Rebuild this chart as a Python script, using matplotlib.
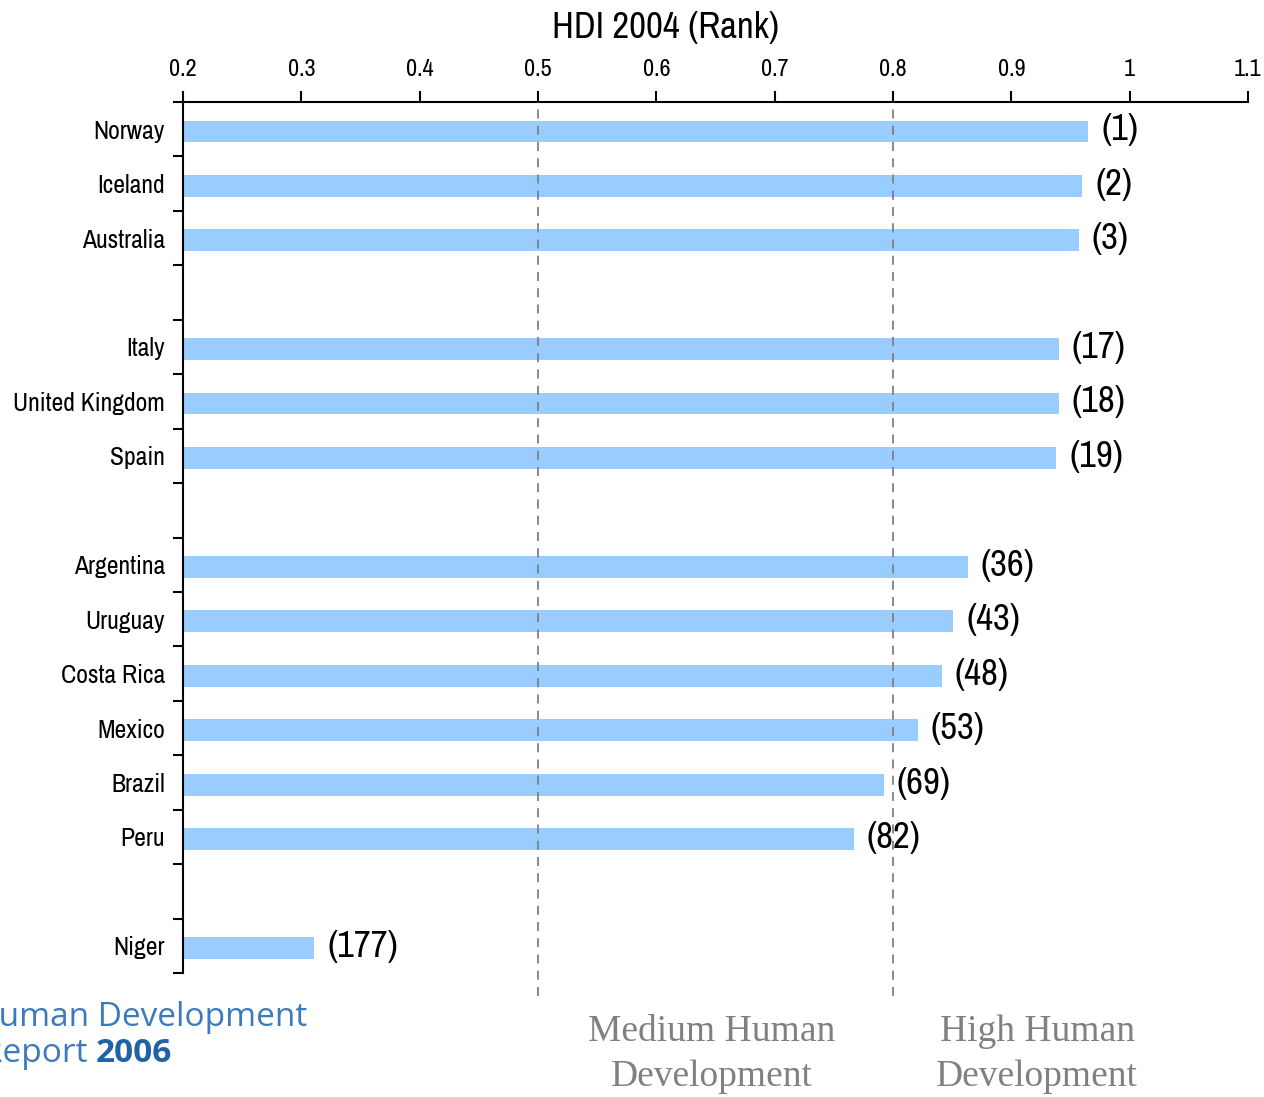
import matplotlib.pyplot as plt
from matplotlib.ticker import FixedLocator

# HDI 2004 values and ranks, grouped (a blank row between groups)
groups = [
    ["Norway", "Iceland", "Australia"],
    ["Italy", "United Kingdom", "Spain"],
    ["Argentina", "Uruguay", "Costa Rica", "Mexico", "Brazil", "Peru"],
    ["Niger"],
]
hdi = [0.965, 0.960, 0.957,
       0.940, 0.940, 0.938,
       0.863, 0.851, 0.841, 0.821, 0.792, 0.767,
       0.311]
ranks = [1, 2, 3, 17, 18, 19, 36, 43, 48, 53, 69, 82, 177]
x_ticks = [0.2, 0.3, 0.4, 0.5, 0.6, 0.7, 0.8, 0.9, 1.0, 1.1]
x_tick_labels = ["0.2", "0.3", "0.4", "0.5", "0.6", "0.7", "0.8", "0.9", "1", "1.1"]
thresholds = [0.5, 0.8]

narrow = ["Archivo Narrow", "Liberation Sans", "DejaVu Sans"]

countries = []
pos = []
p = 0
for g in groups:
    for c in g:
        countries.append(c)
        pos.append(p)
        p += 1
    p += 1
n_slots = p - 1

fig = plt.figure(figsize=(12.64, 10.97), dpi=100)
ax = fig.add_axes([183/1264, 1 - 973/1097, (1248-183)/1264, (973-102)/1097])

# bars sit a little below the slot centre, like in the original
bar_y = [y + 0.04 for y in pos]
ax.barh(bar_y, [v - 0.2 for v in hdi], left=0.2, height=0.4, color="#99ccff")
for y, v, r in zip(bar_y, hdi, ranks):
    ax.text(v + 0.011, y - 0.03, "(%d)" % r, va="center", ha="left",
            fontsize=26.5, family=narrow)

for t in thresholds:
    ax.axvline(t, ymin=-0.026, ymax=1, color="#808080", lw=1.3,
               ls=(0, (5, 4)), clip_on=False, zorder=3)

ax.set_xlim(0.2, 1.1)
ax.set_ylim(n_slots - 0.5, -0.5)
ax.xaxis.tick_top()
ax.set_xticks(x_ticks)
ax.set_xticklabels(x_tick_labels, family=narrow, fontsize=17.5)
ax.tick_params(axis="x", direction="out", length=8, width=1.5, pad=8)

ax.set_yticks(pos)
ax.set_yticklabels(countries, family=narrow, fontsize=18.5)
ax.yaxis.set_minor_locator(FixedLocator([i - 0.5 for i in range(n_slots + 1)]))
ax.tick_params(axis="y", which="major", length=0, pad=13)
ax.tick_params(axis="y", which="minor", direction="out", length=7, width=1.5)

for s in ["right", "bottom"]:
    ax.spines[s].set_visible(False)
for s in ["left", "top"]:
    ax.spines[s].set_linewidth(1.5)

fig.text(665/1264, 1 - 27/1097, "HDI 2004 (Rank)", ha="center", va="center",
         fontsize=26.5, family=narrow)

serif = ["Liberation Serif", "DejaVu Serif"]
for xc, line1 in [(712, "Medium Human"), (1037, "High Human")]:
    fig.text(xc/1264, 1 - 1032/1097, line1, ha="center", va="center",
             fontsize=27, family=serif, color="#808080")
    fig.text(xc/1264, 1 - 1077/1097, "Development", ha="center", va="center",
             fontsize=27, family=serif, color="#808080")

# logo text, cut off at the left edge of the picture
logo = ["Open Sans", "DejaVu Sans"]
r = fig.canvas.get_renderer()
h = fig.text(0, 0, "H", fontsize=24, family=logo)
wh = h.get_window_extent(r).width
h.remove()
rr = fig.text(0, 0, "R", fontsize=24, family=logo)
wr = rr.get_window_extent(r).width
rr.remove()
fig.text(-(wh + 1)/1264, 1 - 1017/1097, "Human Development", ha="left", va="center",
         fontsize=24, family=logo, color="#3a7abd")
t1 = fig.text(-(wr - 2)/1264, 1 - 1053/1097, "Report ", ha="left", va="center",
              fontsize=24, family=logo, color="#3a7abd")
bb = t1.get_window_extent(r)
fig.text(bb.x1/1264, 1 - 1053/1097, "2006", ha="left", va="center",
         fontsize=24, family=logo, weight="bold", color="#1f63a6")

fig.savefig("out.png", dpi=100)
